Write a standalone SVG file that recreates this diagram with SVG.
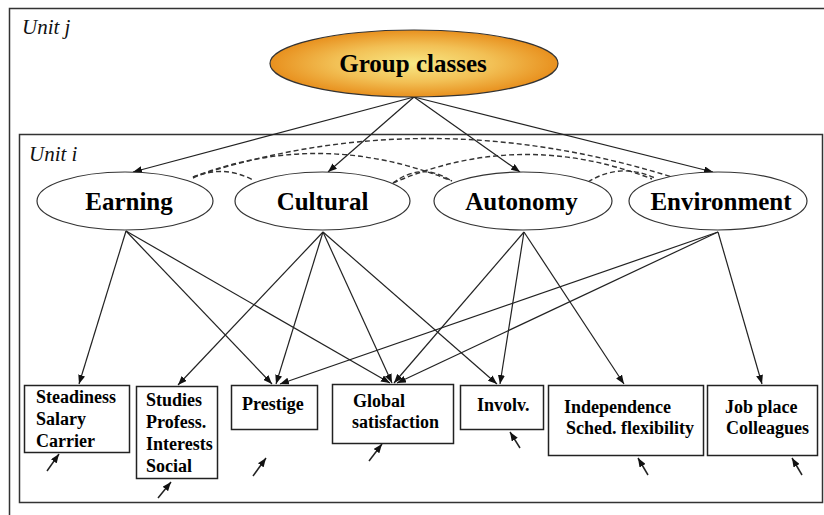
<svg xmlns="http://www.w3.org/2000/svg" width="824" height="515" viewBox="0 0 824 515">
  <style>
    .frame { fill: none; stroke: #333; stroke-width: 1.5; }
    .unit { font-family: 'Liberation Serif', 'DejaVu Serif', serif; font-style: italic; font-size: 21px; fill: #111; }
    .latent { fill: #fff; stroke: #333; stroke-width: 1.2; }
    .ltxt { font-family: 'Liberation Serif', 'DejaVu Serif', serif; font-weight: bold; font-size: 25px; fill: #000; text-anchor: middle; }
    .box { fill: #fff; stroke: #222; stroke-width: 1.5; }
    .btxt { font-family: 'Liberation Serif', 'DejaVu Serif', serif; font-weight: bold; font-size: 18px; fill: #000; }
    .edge { stroke: #222; stroke-width: 1.2; fill: none; marker-end: url(#arrow); }
    .err { stroke: #222; stroke-width: 1.5; fill: none; marker-end: url(#arrow); }
    .cov { stroke: #333; stroke-width: 1.4; fill: none; stroke-dasharray: 5 3; }
  </style>
  <defs>
    <marker id="arrow" markerUnits="userSpaceOnUse" markerWidth="9" markerHeight="7" refX="9" refY="3.5" orient="auto">
      <path d="M0,0 L9,3.5 L0,7 z" fill="#111"/>
    </marker>
    <radialGradient id="gold" cx="50%" cy="50%" r="50%">
      <stop offset="0" stop-color="#f8e884"/>
      <stop offset="0.55" stop-color="#f2c055"/>
      <stop offset="1" stop-color="#e8901e"/>
    </radialGradient>
  </defs>

  <rect width="824" height="515" fill="#fff"/>

  <!-- level frames -->
  <g id="unit-j">
    <rect class="frame" x="9.5" y="8.5" width="830" height="520"/>
    <text class="unit" x="22" y="34">Unit j</text>
  </g>
  <g id="unit-i">
    <rect class="frame" x="19.5" y="134.5" width="803" height="368"/>
    <text class="unit" x="29" y="161">Unit i</text>
  </g>

  <!-- connectors -->
  <g id="connectors">
    <!-- group classes to latent factors -->
    <line class="edge" x1="414" y1="97" x2="133" y2="172"/>
    <line class="edge" x1="414" y1="97" x2="328" y2="172"/>
    <line class="edge" x1="414" y1="97" x2="520" y2="172"/>
    <line class="edge" x1="414" y1="97" x2="713" y2="172"/>

    <!-- covariances between factors -->
    <path class="cov" d="M193,178 Q222,164 253,180"/>
    <path class="cov" d="M193,177 Q322,128 452,181"/>
    <path class="cov" d="M193,177 Q425,100 672,177"/>
    <path class="cov" d="M393,183 Q421,162 450,180"/>
    <path class="cov" d="M393,183 Q520,128 652,179"/>
    <path class="cov" d="M588,182 Q620,162 655,178"/>

    <!-- loadings -->
    <line class="edge" x1="126" y1="231" x2="79" y2="384"/>
    <line class="edge" x1="126" y1="231" x2="272" y2="384"/>
    <line class="edge" x1="126" y1="231" x2="390" y2="383"/>

    <line class="edge" x1="323" y1="232" x2="178" y2="385"/>
    <line class="edge" x1="323" y1="232" x2="276" y2="384"/>
    <line class="edge" x1="323" y1="232" x2="392" y2="383"/>
    <line class="edge" x1="323" y1="232" x2="497" y2="384"/>

    <line class="edge" x1="524" y1="232" x2="394" y2="383"/>
    <line class="edge" x1="524" y1="232" x2="500" y2="384"/>
    <line class="edge" x1="524" y1="232" x2="624" y2="384"/>

    <line class="edge" x1="718" y1="232" x2="280" y2="384"/>
    <line class="edge" x1="718" y1="232" x2="397" y2="383"/>
    <line class="edge" x1="718" y1="232" x2="762" y2="384"/>

    <!-- residual terms -->
    <line class="err" x1="47" y1="471" x2="59" y2="454"/>
    <line class="err" x1="158" y1="498" x2="171" y2="482"/>
    <line class="err" x1="253" y1="476" x2="266" y2="458"/>
    <line class="err" x1="369" y1="461" x2="382" y2="444"/>
    <line class="err" x1="520" y1="448" x2="510" y2="432"/>
    <line class="err" x1="648" y1="475" x2="638" y2="458"/>
    <line class="err" x1="802" y1="475" x2="792" y2="458"/>
  </g>

  <!-- top-level node -->
  <g id="group-classes">
    <ellipse cx="414" cy="63.5" rx="144" ry="33.5" fill="url(#gold)" stroke="#333" stroke-width="1.2"/>
    <text class="ltxt" x="413" y="72">Group classes</text>
  </g>

  <!-- latent factors -->
  <g id="earning">
    <ellipse class="latent" cx="125" cy="201" rx="88" ry="29"/>
    <text class="ltxt" x="129" y="210">Earning</text>
  </g>
  <g id="cultural">
    <ellipse class="latent" cx="322.5" cy="201" rx="87.5" ry="29"/>
    <text class="ltxt" x="322.5" y="210">Cultural</text>
  </g>
  <g id="autonomy">
    <ellipse class="latent" cx="523" cy="201" rx="89" ry="29"/>
    <text class="ltxt" x="521.5" y="210">Autonomy</text>
  </g>
  <g id="environment">
    <ellipse class="latent" cx="718" cy="201" rx="89" ry="29"/>
    <text class="ltxt" x="721" y="210">Environment</text>
  </g>

  <!-- observed indicators -->
  <g id="steadiness">
    <rect class="box" x="24.5" y="385.5" width="105" height="67"/>
    <text class="btxt" x="36" y="403">Steadiness</text>
    <text class="btxt" x="36" y="425">Salary</text>
    <text class="btxt" x="36" y="447">Carrier</text>
  </g>
  <g id="studies">
    <rect class="box" x="136.5" y="386.5" width="81" height="92"/>
    <text class="btxt" x="146" y="406">Studies</text>
    <text class="btxt" x="146" y="428">Profess.</text>
    <text class="btxt" x="146" y="450">Interests</text>
    <text class="btxt" x="146" y="472">Social</text>
  </g>
  <g id="prestige">
    <rect class="box" x="231.5" y="385.5" width="86" height="44"/>
    <text class="btxt" x="242" y="410">Prestige</text>
  </g>
  <g id="global-satisfaction">
    <rect class="box" x="332.5" y="384.5" width="121" height="59"/>
    <text class="btxt" x="353" y="407">Global</text>
    <text class="btxt" x="352" y="428">satisfaction</text>
  </g>
  <g id="involv">
    <rect class="box" x="460.5" y="385.5" width="83" height="44"/>
    <text class="btxt" x="477" y="411">Involv.</text>
  </g>
  <g id="independence">
    <rect class="box" x="548.5" y="385.5" width="155" height="70"/>
    <text class="btxt" x="564" y="413">Independence</text>
    <text class="btxt" x="566" y="434">Sched. flexibility</text>
  </g>
  <g id="job-place">
    <rect class="box" x="707.5" y="385.5" width="110" height="70"/>
    <text class="btxt" x="725" y="413">Job place</text>
    <text class="btxt" x="726" y="434">Colleagues</text>
  </g>
</svg>
